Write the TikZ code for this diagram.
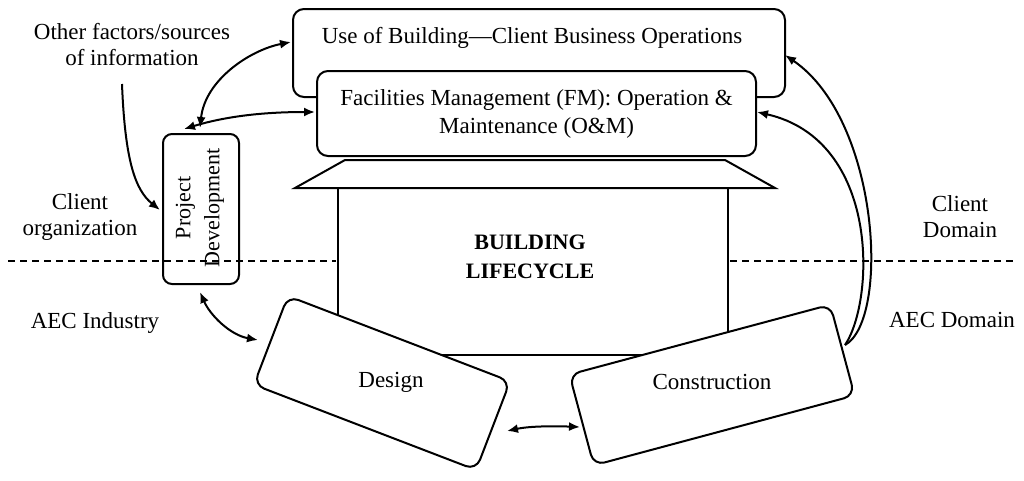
\documentclass[tikz,border=0pt]{standalone}
\usepackage{fontspec}
\setmainfont{Liberation Serif}
\usetikzlibrary{arrows.meta}
\begin{document}
\begin{tikzpicture}[x=1pt,y=-1pt,line width=2pt,
  rbox/.style={draw,rounded corners=11pt,fill=white,align=center,inner sep=0pt},
  lbl/.style={align=center,font=\fontsize{23}{26}\selectfont},
  dar/.style={{Latex[length=11pt,width=9pt]}-{Latex[length=11pt,width=9pt]}},
  sar/.style={-{Latex[length=11pt,width=9pt]}},
  dsh/.style={line width=1.6pt,dash pattern=on 7pt off 5pt}]
\useasboundingbox (0,0) rectangle (1024,480);
\tikzset{every node/.style={font=\fontsize{23}{28}\selectfont}}
% house
\draw (338,188) rectangle (728,355);
\draw[fill=white] (295,188) -- (345,160) -- (725,160) -- (775,188) -- cycle;
\fill[white] (340,190) rectangle (726,353);
\draw[dsh] (730,261) -- (1016,261);
\node[font=\bfseries\fontsize{22}{29}\selectfont,align=center] (bl) at (530,257) {BUILDING\\LIFECYCLE};
% top boxes
\node[rbox,minimum width=492pt,minimum height=88pt,anchor=north west] (use) at (292,8) {};
\node at (532,38) {Use of Building—Client Business Operations};
\node[rbox,minimum width=439pt,minimum height=85pt,anchor=north west,align=center] (fm) at (316,70) {Facilities Management (FM): Operation \&\\Maintenance (O\&M)};
% project development
\node[rbox,minimum width=76pt,minimum height=150pt,anchor=north west,rounded corners=9pt] (pd) at (162,133) {};
\node[rotate=90,align=center,font=\fontsize{22}{29}\selectfont] at (200,208) {Project\\Development};
\draw[dsh] (8,261) -- (336,261);
% design & construction
\node[rbox,minimum width=238pt,minimum height=95pt,rotate=-21] (des) at (382,383) {};
\node at (391,382) {Design};
\node[rbox,minimum width=270pt,minimum height=94pt,rotate=15] (con) at (712,385) {};
\node at (712,382) {Construction};
% labels
\node[lbl] (of) at (132,45) {Other factors/sources\\of information};
\node[lbl] at (80,217) {Client\\organization};
\node[lbl] at (95,323) {AEC Industry};
\node[lbl] at (960,217) {Client\\Domain};
\node[lbl] at (952,320) {AEC Domain};
\coordinate (ofe) at (122,84);
% arrows
\draw[sar] (ofe) .. controls (125,160) and (135,190) .. (160,210);
\draw[dar] (200,128) .. controls (205,80) and (250,50) .. (291,42);
\draw[dar] (184,129) .. controls (230,115) and (270,112) .. (315,112);
\draw[dar] (200,292) .. controls (210,315) and (230,335) .. (258,340);
\draw[dar] (507,431) .. controls (530,426) and (555,426) .. (580,427);
\draw[sar] (845,345) .. controls (890,320) and (880,120) .. (785,55);
\draw[sar] (845,345) .. controls (875,300) and (880,140) .. (757,112);
\end{tikzpicture}
\end{document}
